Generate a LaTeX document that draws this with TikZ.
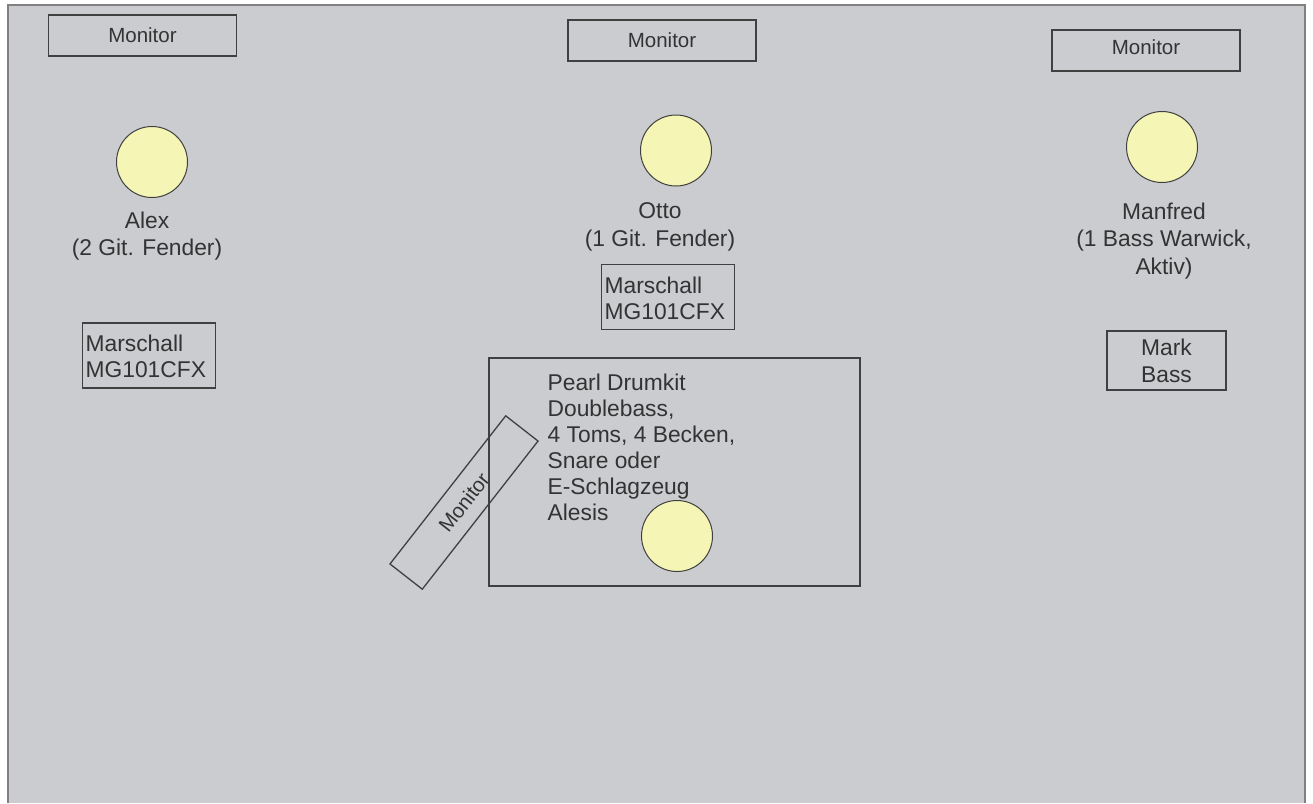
\documentclass[tikz,border=0pt]{standalone}
\usepackage{fontspec}
\setmainfont{Liberation Sans}
\definecolor{stagebg}{HTML}{CBCCD0}
\definecolor{framecol}{HTML}{808080}
\definecolor{linecol}{HTML}{404040}
\definecolor{txtcol}{HTML}{333333}
\definecolor{headfill}{HTML}{F5F5B5}
\begin{document}
\begin{tikzpicture}[x=1pt,y=-1pt,
  monitorbox/.style={draw=linecol, line width=1.3pt, minimum width=188pt, minimum height=41pt, inner sep=0pt, text=txtcol, font=\fontsize{20.5}{24}\selectfont},
  montext/.style={inner sep=0pt, text=txtcol, font=\fontsize{20.5}{24}\selectfont},
  head/.style={circle, draw=linecol, line width=1pt, fill=headfill, minimum size=71pt, inner sep=0pt},
  lbl/.style={align=center, inner sep=0pt, text=txtcol, font=\fontsize{22.8}{27.5}\selectfont},
  ampbox/.style={draw=linecol, line width=1.3pt, inner sep=0pt, text=txtcol, font=\fontsize{22.8}{26}\selectfont},
  drumbox/.style={draw=linecol, line width=1.3pt, minimum width=371pt, minimum height=228pt, inner sep=0pt}]
\useasboundingbox (0,0) rectangle (1313,803);
\fill[white] (0,0) rectangle (1313,803);
\fill[stagebg] (8,5) rectangle (1305,803);
\draw[framecol, line width=2pt] (8,803) -- (8,5) -- (1305,5) -- (1305,803);
% monitors
\node[monitorbox] (mon1) at (142.5,35.5) {Monitor};
\node[monitorbox] (mon2) at (662,40.5) {Monitor};
\node[monitorbox] (mon3) at (1146,50.5) {};
\node[montext] (mon3t) at (1146,47) {Monitor};
% musicians
\node[head] (alex) at (152,162) {};
\node[head] (otto) at (676,150.5) {};
\node[head] (manfred) at (1162,147) {};
\node[lbl] (alexl) at (147,236) {Alex\\(2 Git. Fender)};
\node[lbl] (ottol) at (660,227) {Otto\\(1 Git. Fender)};
\node[lbl] (manfredl) at (1164,241) {Manfred\\(1 Bass Warwick,\\Aktiv)};
% amps
\node[ampbox, minimum width=133pt, minimum height=65pt] (amp1) at (149,355.5) {};
\node[ampbox, anchor=west, align=left, draw=none] (amp1t) at (85,356) {Marschall\\MG101CFX};
\node[ampbox, minimum width=133pt, minimum height=65pt] (amp2) at (668,297) {};
\node[ampbox, anchor=west, align=left, draw=none] (amp2t) at (604,298) {Marschall\\MG101CFX};
\node[ampbox, minimum width=119pt, minimum height=59pt, align=center, font=\fontsize{22.8}{27}\selectfont] (amp3) at (1166.5,360.5) {Mark\\Bass};
% drums
\node[drumbox] (drums) at (674.5,472) {};
\node[ampbox, draw=none, anchor=north west, align=left] (drumt) at (547,373) {Pearl Drumkit\\Doublebass,\\4 Toms, 4 Becken,\\Snare oder\\E-Schlagzeug\\Alesis};
\node[head] (drummer) at (677,536) {};
\node[monitorbox, rotate=52] (mon4) at (464,502.5) {Monitor};
\end{tikzpicture}
\end{document}
